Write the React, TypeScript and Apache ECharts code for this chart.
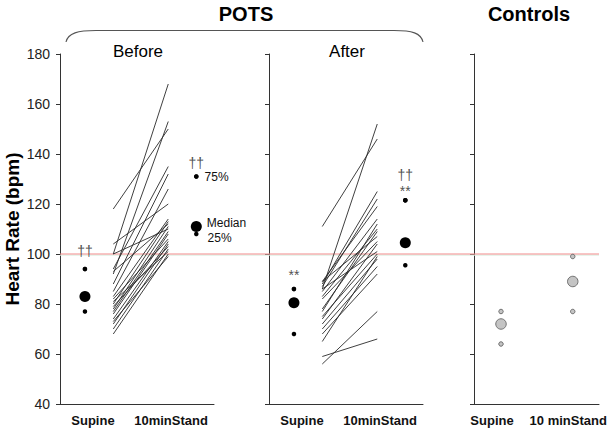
import { useEffect, useRef } from 'react';
import * as echarts from 'echarts';

// ---- data ----
const yMin = 40;
const yMax = 180;
const yStep = 20;
const refRate = 100;
const groupTitles = ['POTS', 'Controls'];
const panelTitles = ['Before', 'After'];
const potsLabels = ['Supine', '10minStand'];
const controlLabels = ['Supine', '10 minStand'];
const axisTitle = 'Heart Rate (bpm)';

// individual patients (supine -> 10 min standing)
const beforeSupine = [100, 118, 92, 94, 88, 85, 104, 83, 80, 93, 78, 100, 77, 76, 82, 74, 72, 79, 70, 81, 68, 73];
const beforeStand = [168, 150, 153, 135, 132, 126, 120, 114, 113, 112, 111, 110, 109, 108, 106, 105, 104, 103, 102, 101, 100, 99];
const afterSupine = [86, 111, 88, 87, 89, 85, 83, 78, 89, 74, 86, 72, 70, 68, 65, 77, 59, 56, 82, 75];
const afterStand = [152, 146, 125, 122, 119, 114, 110, 109, 107, 104, 101, 98, 95, 92, 99, 112, 66, 77, 105, 100];

// summaries: [75th percentile, median, 25th percentile]
const beforeSupineQ = [94, 83, 77];
const beforeStandQ = [131, 111, 108];
const afterSupineQ = [86, 80.5, 68];
const afterStandQ = [121.5, 104.5, 95.5];
const controlSupineQ = [77, 72, 64];
const controlStandQ = [99, 89, 77];

// significance marks
const daggerMark = '††';
const starMark = '**';
const quartileNames = ['75%', 'Median', '25%'];

// ---- layout ----
const FONT = 'Liberation Sans, Arial, sans-serif';
const POTS_POS = { sup: 16.2, start: 34.6, end: 70.3, stand: 88.5, supLabel: 21.4, standLabel: 72.1 };
const CTRL_POS = { sup: 21.6, stand: 79, supLabel: 14.4, standLabel: 75.4 };
const grids = [
  { left: 60, top: 54, width: 154, height: 350 },
  { left: 269, top: 54, width: 154, height: 350 },
  { left: 474, top: 54, width: 125, height: 350 },
];

function xAxis(i: number, pos: { supLabel: number; standLabel: number }, labels: string[]) {
  return {
    type: 'value',
    gridIndex: i,
    min: 0,
    max: 100,
    axisLine: { show: true, onZero: false, lineStyle: { color: '#333', width: 1 } },
    axisTick: { show: false },
    splitLine: { show: false },
    axisLabel: {
      show: true,
      customValues: [pos.supLabel, pos.standLabel],
      formatter: (v: number) => (Math.abs(v - pos.supLabel) < 0.01 ? labels[0] : labels[1]),
      fontFamily: FONT,
      fontWeight: 'bold',
      fontSize: 13,
      color: '#111',
      margin: 10,
    },
  };
}

function yAxis(i: number) {
  return {
    type: 'value',
    gridIndex: i,
    min: yMin,
    max: yMax,
    interval: yStep,
    name: i === 0 ? axisTitle : '',
    nameLocation: 'middle',
    nameGap: 38,
    nameTextStyle: { fontFamily: FONT, fontWeight: 'bold', fontSize: 19, color: '#000' },
    axisLine: { show: true, onZero: false, lineStyle: { color: '#333', width: 1 } },
    axisTick: { show: true, length: 4, inside: false, lineStyle: { color: '#333' } },
    splitLine: { show: false },
    axisLabel: { show: i === 0, fontFamily: FONT, fontSize: 14, color: '#222', margin: 10 },
  };
}

function pairLines(axis: number, sup: number[], stand: number[], x0: number, x1: number) {
  return sup.map((s, k) => ({
    type: 'line',
    xAxisIndex: axis,
    yAxisIndex: axis,
    data: [[x0, s], [x1, stand[k]]],
    symbol: 'none',
    silent: true,
    lineStyle: { color: '#2a2a2a', width: 0.9 },
    z: 2,
  }));
}

const noteLabel = (text: string, distance: number) => ({
  show: true,
  position: 'top',
  distance,
  formatter: text,
  fontFamily: FONT,
  fontSize: 14,
  lineHeight: 14,
  color: '#222',
  textBorderWidth: 0,
});

const sideLabel = (text: string, offsetY: number, distance: number) => ({
  show: true,
  position: 'right',
  distance,
  offset: [0, offsetY],
  formatter: text,
  fontFamily: FONT,
  fontSize: 12,
  color: '#111',
  textBorderWidth: 0,
});

function summary(
  axis: number,
  x: number,
  q: number[],
  fill: string,
  border: string,
  smallSize: number,
  bigSize: number,
  labels: any[] = [null, null, null]
) {
  const item = (k: number, v: number) => (labels[k] ? { value: [x, v], label: labels[k] } : { value: [x, v] });
  const style = { color: fill, borderColor: border, borderWidth: border === 'none' ? 0 : 0.8, opacity: 1 };
  return [
    {
      type: 'scatter',
      xAxisIndex: axis,
      yAxisIndex: axis,
      symbol: 'circle',
      symbolSize: smallSize,
      itemStyle: style,
      data: [item(0, q[0]), item(2, q[2])],
      z: 3,
      silent: true,
    },
    {
      type: 'scatter',
      xAxisIndex: axis,
      yAxisIndex: axis,
      symbol: 'circle',
      symbolSize: bigSize,
      itemStyle: style,
      data: [item(1, q[1])],
      z: 3,
      silent: true,
    },
  ];
}

function markSeries(axis: number, x: number, v: number, text: string, distance: number) {
  return {
    type: 'scatter',
    xAxisIndex: axis,
    yAxisIndex: axis,
    symbol: 'circle',
    symbolSize: 4.5,
    itemStyle: { color: '#000' },
    data: [{ value: [x, v], label: noteLabel(text, distance) }],
    silent: true,
    z: 4,
  };
}

const series: any[] = [
  ...pairLines(0, beforeSupine, beforeStand, POTS_POS.start, POTS_POS.end),
  ...pairLines(1, afterSupine, afterStand, POTS_POS.start, POTS_POS.end),
  ...summary(0, POTS_POS.sup, beforeSupineQ, '#000', 'none', 4.5, 11),
  ...summary(0, POTS_POS.stand, beforeStandQ, '#000', 'none', 4.5, 11, [
    sideLabel(quartileNames[0], 0, 6),
    sideLabel(quartileNames[1], -4, 5),
    sideLabel(quartileNames[2], 4, 9),
  ]),
  ...summary(1, POTS_POS.sup, afterSupineQ, '#000', 'none', 4.5, 11),
  ...summary(1, POTS_POS.stand, afterStandQ, '#000', 'none', 4.5, 11),
  ...summary(2, CTRL_POS.sup, controlSupineQ, '#c4c4c4', '#555', 4.5, 10.5),
  ...summary(2, CTRL_POS.stand, controlStandQ, '#c4c4c4', '#555', 4.5, 10.5),
  markSeries(0, POTS_POS.sup, beforeSupineQ[0], daggerMark, 9),
  markSeries(0, POTS_POS.stand, beforeStandQ[0], daggerMark, 4),
  markSeries(1, POTS_POS.sup, afterSupineQ[0], starMark, 5),
  markSeries(1, POTS_POS.stand, afterStandQ[0], starMark, 0),
  markSeries(1, POTS_POS.stand, afterStandQ[0], daggerMark, 16),
];

const option: any = {
  animation: false,
  backgroundColor: '#fff',
  grid: grids.map((g) => ({ ...g, containLabel: false })),
  xAxis: [xAxis(0, POTS_POS, potsLabels), xAxis(1, POTS_POS, potsLabels), xAxis(2, CTRL_POS, controlLabels)],
  yAxis: [yAxis(0), yAxis(1), yAxis(2)],
  series,
};

const titleText = (text: string, x: number, y: number, size: number, weight: string) => ({
  type: 'text',
  x,
  y,
  silent: true,
  style: {
    text,
    fontFamily: FONT,
    fontSize: size,
    fontWeight: weight,
    fill: '#000',
    align: 'center',
    verticalAlign: 'middle',
  },
});

const braceStyle = { stroke: '#555', lineWidth: 1.1, fill: 'none' };
const staticGraphics = [
  titleText(groupTitles[0], 246, 14, 20, 'bold'),
  titleText(groupTitles[1], 529, 14, 20, 'bold'),
  titleText(panelTitles[0], 138, 51, 17, 'normal'),
  titleText(panelTitles[1], 347, 51, 17, 'normal'),
  {
    type: 'bezierCurve',
    silent: true,
    shape: { x1: 66, y1: 42, cpx1: 68, cpy1: 33, cpx2: 78, cpy2: 30.5, x2: 96, y2: 30.5 },
    style: braceStyle,
  },
  { type: 'line', silent: true, shape: { x1: 96, y1: 30.5, x2: 394, y2: 30.5 }, style: braceStyle },
  {
    type: 'bezierCurve',
    silent: true,
    shape: { x1: 394, y1: 30.5, cpx1: 412, cpy1: 30.5, cpx2: 421, cpy2: 33, x2: 423, y2: 42 },
    style: braceStyle,
  },
];

export default function App() {
  const ref = useRef<HTMLDivElement>(null);
  useEffect(() => {
    if (!ref.current) return;
    const chart = echarts.init(ref.current, null, { renderer: 'svg' });
    chart.setOption(option);
    const y = chart.convertToPixel({ yAxisIndex: 0 }, refRate) as number;
    const x0 = chart.convertToPixel({ xAxisIndex: 0 }, 0) as number;
    const x1 = chart.convertToPixel({ xAxisIndex: 2 }, 100) as number;
    chart.setOption({
      graphic: [
        ...staticGraphics,
        {
          type: 'line',
          silent: true,
          z: 1,
          shape: { x1: x0, y1: y + 1.2, x2: x1, y2: y + 1.2 },
          style: { stroke: '#dcefe2', lineWidth: 1 },
        },
        {
          type: 'line',
          silent: true,
          z: 1,
          shape: { x1: x0, y1: y, x2: x1, y2: y },
          style: { stroke: '#f08a8a', lineWidth: 1 },
        },
      ],
    });
    return () => chart.dispose();
  }, []);
  return (
    <div
      ref={ref}
      style={{ position: 'fixed', left: 0, top: 0, width: 612, height: 432, background: '#fff' }}
    />
  );
}
